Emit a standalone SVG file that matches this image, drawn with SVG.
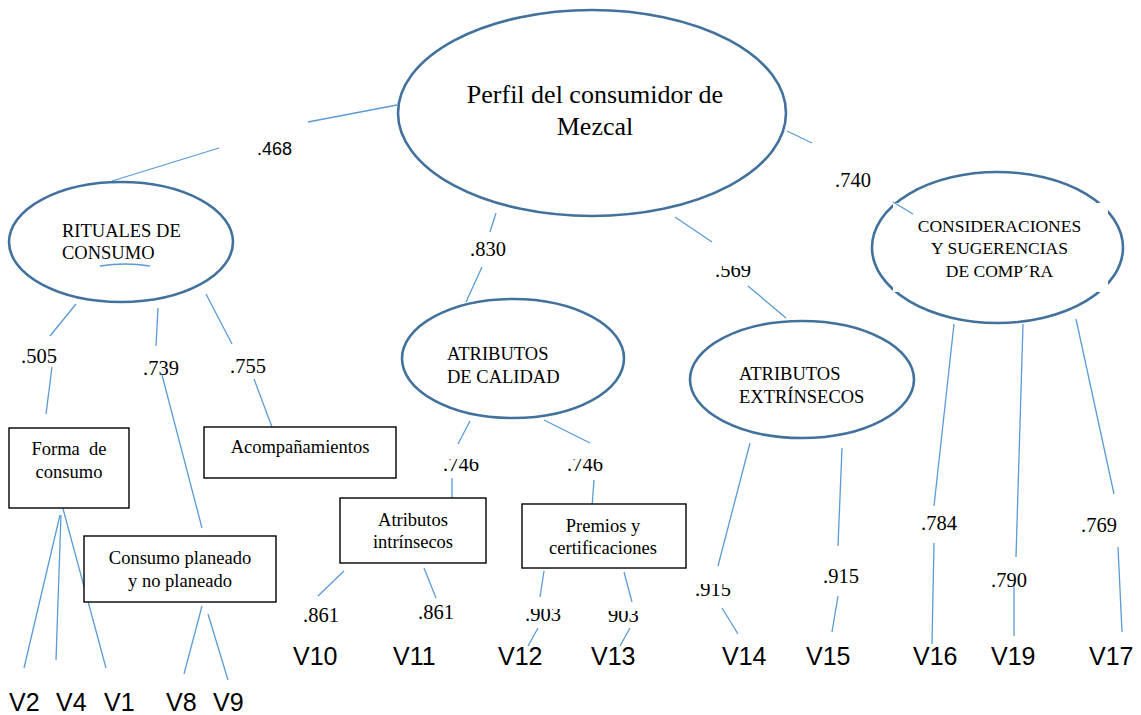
<svg xmlns="http://www.w3.org/2000/svg" width="1141" height="715" viewBox="0 0 1141 715">
<style>
.ell{fill:#fff;stroke:#41719C;stroke-width:2.6}
.box{fill:#fff;stroke:#000;stroke-width:1.4}
.ln{stroke:#5B9BD5;stroke-width:1.3;fill:none}
.t{font-family:'Liberation Serif','DejaVu Serif',serif;fill:#000}
.nt{font-size:18.5px}
.num{font-family:'Liberation Serif','DejaVu Serif',serif;font-size:20.5px;fill:#000}
.v{font-family:'Liberation Sans',Arial,sans-serif;font-size:25px;fill:#000}
.mid{text-anchor:middle}
</style>
<defs>
<clipPath id="c569" clipPathUnits="userSpaceOnUse"><rect x="700" y="266" width="70" height="20"/></clipPath>
<clipPath id="c746a" clipPathUnits="userSpaceOnUse"><rect x="430" y="459" width="70" height="20"/></clipPath>
<clipPath id="c746b" clipPathUnits="userSpaceOnUse"><rect x="555" y="459" width="70" height="20"/></clipPath>
<clipPath id="c903a" clipPathUnits="userSpaceOnUse"><rect x="515" y="609" width="60" height="20"/></clipPath>
<clipPath id="c903b" clipPathUnits="userSpaceOnUse"><rect x="600" y="611" width="60" height="20"/></clipPath>
<clipPath id="c915a" clipPathUnits="userSpaceOnUse"><rect x="685" y="584" width="60" height="20"/></clipPath>
</defs>

<g id="connectors">
<line class="ln" x1="397" y1="105" x2="308" y2="122"/>
<line class="ln" x1="219" y1="148" x2="112" y2="181"/>
<line class="ln" x1="496" y1="213" x2="490" y2="232"/>
<line class="ln" x1="482" y1="267" x2="466" y2="302"/>
<line class="ln" x1="675" y1="217" x2="712" y2="242"/>
<line class="ln" x1="748" y1="286" x2="786" y2="318"/>
<line class="ln" x1="787" y1="131" x2="812" y2="143"/>
<line class="ln" x1="76" y1="304" x2="50" y2="336"/>
<line class="ln" x1="52" y1="367" x2="46" y2="414"/>
<line class="ln" x1="158" y1="308" x2="156" y2="346"/>
<line class="ln" x1="162" y1="375" x2="202" y2="528"/>
<line class="ln" x1="206" y1="294" x2="232" y2="344"/>
<line class="ln" x1="254" y1="379" x2="272" y2="427"/>
<line class="ln" x1="60" y1="515" x2="24" y2="668"/>
<line class="ln" x1="61" y1="515" x2="56" y2="660"/>
<line class="ln" x1="62" y1="505" x2="106" y2="668"/>
<line class="ln" x1="202" y1="606" x2="184" y2="674"/>
<line class="ln" x1="208" y1="614" x2="228" y2="680"/>
<line class="ln" x1="470" y1="421" x2="458" y2="444"/>
<line class="ln" x1="452" y1="478" x2="452" y2="502"/>
<line class="ln" x1="544" y1="420" x2="590" y2="443"/>
<line class="ln" x1="594" y1="480" x2="592" y2="507"/>
<line class="ln" x1="344" y1="571" x2="318" y2="596"/>
<line class="ln" x1="424" y1="568" x2="436" y2="598"/>
<line class="ln" x1="544" y1="571" x2="540" y2="597"/>
<line class="ln" x1="538" y1="628" x2="528" y2="646"/>
<line class="ln" x1="624" y1="572" x2="632" y2="602"/>
<line class="ln" x1="630" y1="628" x2="620" y2="646"/>
<line class="ln" x1="750" y1="443" x2="718" y2="566"/>
<line class="ln" x1="722" y1="608" x2="738" y2="634"/>
<line class="ln" x1="842" y1="448" x2="838" y2="546"/>
<line class="ln" x1="838" y1="596" x2="832" y2="632"/>
<line class="ln" x1="954" y1="324" x2="934" y2="506"/>
<line class="ln" x1="934" y1="543" x2="932" y2="644"/>
<line class="ln" x1="1023" y1="324" x2="1016" y2="557"/>
<line class="ln" x1="1014" y1="583" x2="1014" y2="636"/>
<line class="ln" x1="1076" y1="319" x2="1114" y2="494"/>
<line class="ln" x1="1118" y1="547" x2="1122" y2="632"/>
</g>

<g id="perfil">
<ellipse class="ell" cx="592" cy="113" rx="194" ry="103"/>
<text class="t mid" x="595" y="103" font-size="26">Perfil del consumidor de</text>
<text class="t mid" x="595" y="135" font-size="26">Mezcal</text>
</g>

<g id="rituales">
<ellipse class="ell" cx="121" cy="242" rx="112" ry="60"/>
<text class="t nt" x="62" y="237">RITUALES DE</text>
<text class="t nt" x="62" y="259">CONSUMO</text>
<path d="M100 266 Q125 262 150 266" stroke="#5B9BD5" stroke-width="1.3" fill="none"/>
</g>

<g id="calidad">
<ellipse class="ell" cx="513" cy="358.5" rx="111" ry="59.5"/>
<text class="t nt" x="447" y="360">ATRIBUTOS</text>
<text class="t nt" x="447" y="383">DE CALIDAD</text>
</g>

<g id="extrinsecos">
<ellipse class="ell" cx="802" cy="379.5" rx="112" ry="58.5"/>
<text class="t nt" x="739" y="380">ATRIBUTOS</text>
<text class="t nt" x="739" y="403">EXTRÍNSECOS</text>
</g>

<g id="consideraciones">
<ellipse class="ell" cx="997.5" cy="247.5" rx="125.5" ry="75.5"/>
<rect x="893" y="203" width="215" height="89" fill="#fff"/>
<line class="ln" x1="893" y1="202" x2="913" y2="214"/>
<text class="t mid" x="999.5" y="232" font-size="17.5">CONSIDERACIONES</text>
<text class="t mid" x="999.5" y="254" font-size="17.5">Y SUGERENCIAS</text>
<text class="t mid" x="999.5" y="277" font-size="17.5">DE COMP´RA</text>
</g>

<g id="forma">
<rect class="box" x="9" y="428" width="120" height="80"/>
<text class="t nt mid" x="69" y="455" xml:space="preserve">Forma  de</text>
<text class="t nt mid" x="69" y="478">consumo</text>
</g>

<g id="acompanamientos">
<rect class="box" x="204" y="427" width="192" height="51"/>
<text class="t nt mid" x="300" y="453">Acompañamientos</text>
</g>

<g id="planeado">
<rect class="box" x="84" y="536" width="192" height="66"/>
<text class="t nt mid" x="180" y="564">Consumo planeado</text>
<text class="t nt mid" x="180" y="587">y no planeado</text>
</g>

<g id="intrinsecos">
<rect class="box" x="340" y="498" width="146" height="65"/>
<text class="t nt mid" x="413" y="526">Atributos</text>
<text class="t nt mid" x="413" y="548">intrínsecos</text>
</g>

<g id="premios">
<rect class="box" x="522" y="504" width="164" height="64"/>
<text class="t nt mid" x="603" y="532">Premios y</text>
<text class="t nt mid" x="603" y="554">certificaciones</text>
</g>

<g id="labels">
<text x="257" y="155" font-family="Liberation Sans,Arial,sans-serif" font-size="18">.468</text>
<text class="num" x="470" y="256">.830</text>
<text class="num" x="715" y="277" clip-path="url(#c569)">.569</text>
<text class="num" x="835" y="187">.740</text>
<text class="num" x="21" y="363">.505</text>
<text class="num" x="143" y="375">.739</text>
<text class="num" x="230" y="373">.755</text>
<text class="num" x="443" y="471" clip-path="url(#c746a)">.746</text>
<text class="num" x="567" y="471" clip-path="url(#c746b)">.746</text>
<text class="num" x="303" y="622">.861</text>
<text class="num" x="418" y="619">.861</text>
<text class="num" x="525" y="621" clip-path="url(#c903a)">.903</text>
<text class="num" x="608" y="622" clip-path="url(#c903b)">903</text>
<text class="num" x="695" y="596" clip-path="url(#c915a)">.915</text>
<text class="num" x="823" y="583">.915</text>
<text class="num" x="921" y="530">.784</text>
<text class="num" x="991" y="587">.790</text>
<text class="num" x="1081" y="532">.769</text>
</g>

<g id="variables">
<text class="v" x="9" y="711">V2</text>
<text class="v" x="56" y="711">V4</text>
<text class="v" x="104" y="711">V1</text>
<text class="v" x="166" y="711">V8</text>
<text class="v" x="213" y="711">V9</text>
<text class="v" x="293" y="665">V10</text>
<text class="v" x="393" y="665">V11</text>
<text class="v" x="498" y="665">V12</text>
<text class="v" x="591" y="665">V13</text>
<text class="v" x="722" y="665">V14</text>
<text class="v" x="806" y="665">V15</text>
<text class="v" x="913" y="665">V16</text>
<text class="v" x="991" y="665">V19</text>
<text class="v" x="1089" y="665">V17</text>
</g>
</svg>
